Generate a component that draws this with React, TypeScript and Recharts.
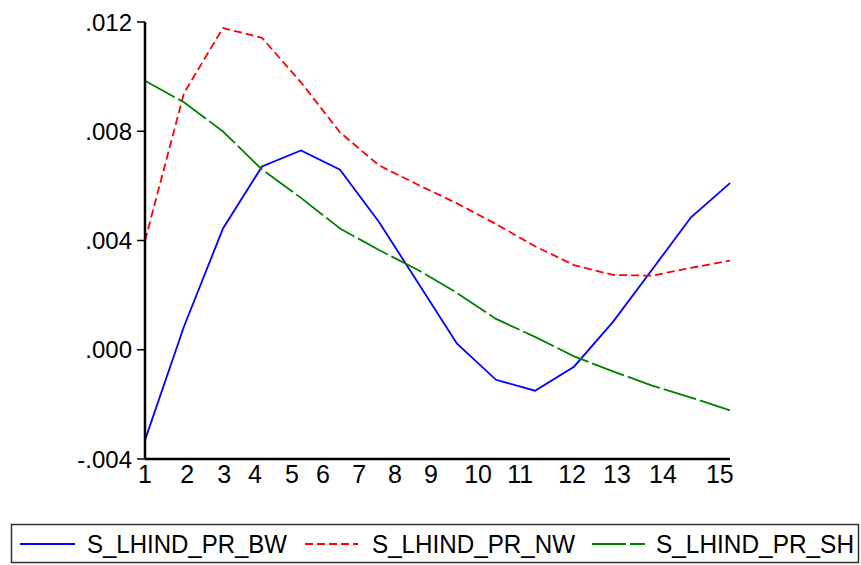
import { Line, LineChart, XAxis, YAxis } from "recharts";

// impulse responses, one value per period (16 points)
const PERIODS = [0, 1, 2, 3, 4, 5, 6, 7, 8, 9, 10, 11, 12, 13, 14, 15];
const BW = [-0.00331, 0.00085, 0.00444, 0.00671, 0.0073, 0.00659, 0.00468, 0.00245, 0.00022, -0.0011, -0.0015, -0.00062, 0.00102, 0.00293, 0.00485, 0.0061];
const NW = [0.00399, 0.0094, 0.01178, 0.01142, 0.00979, 0.00796, 0.00675, 0.00604, 0.00536, 0.0046, 0.00379, 0.0031, 0.00274, 0.00271, 0.003, 0.00326];
const SH = [0.00985, 0.00906, 0.00799, 0.0066, 0.00556, 0.00444, 0.00365, 0.00292, 0.00208, 0.00113, 0.00047, -0.00024, -0.00079, -0.00131, -0.00175, -0.00222];

const Y_TICKS = [-0.004, 0, 0.004, 0.008, 0.012];
const X_LABELS = ["1", "2", "3", "4", "5", "6", "7", "8", "9", "10", "11", "12", "13", "14", "15"];
// where each label sits along the period axis
const X_LABEL_AT = [0, 1.08, 2.03, 2.82, 3.77, 4.56, 5.49, 6.41, 7.33, 8.54, 9.62, 10.95, 12.1, 13.28, 14.74];

const SERIES = [
  { key: "bw", name: "S_LHIND_PR_BW", color: "#0000ff", dash: undefined },
  { key: "nw", name: "S_LHIND_PR_NW", color: "#ff0000", dash: "8 4" },
  { key: "sh", name: "S_LHIND_PR_SH", color: "#008000", dash: "34 4" },
];

const data = PERIODS.map((p, i) => ({ p, bw: BW[i], nw: NW[i], sh: SH[i] }));

const fmtY = (v: number) => {
  const s = Math.abs(v).toFixed(3).replace(/^0/, "");
  return v < 0 ? "-" + s : s;
};

const FONT = "'Liberation Sans', Arial, sans-serif";

function LegendBox() {
  const items = [
    { x1: 20, x2: 75, tx: 87, tw: 200 },
    { x1: 305, x2: 358, tx: 372, tw: 203 },
    { x1: 592, x2: 645, tx: 656, tw: 198 },
  ];
  return (
    <svg width={861} height={565} style={{ position: "absolute", left: 0, top: 0, pointerEvents: "none" }}>
      <rect x={11.5} y={524.5} width={847} height={38} fill="none" stroke="#333" strokeWidth={1.5} />
      {SERIES.map((s, i) => (
        <g key={s.key}>
          <line x1={items[i].x1} x2={items[i].x2} y1={544} y2={544} stroke={s.color} strokeWidth={1.8} strokeDasharray={s.dash} />
          <text
            x={items[i].tx}
            y={553}
            fontFamily={FONT}
            fontSize={25}
            textLength={items[i].tw}
            lengthAdjust="spacingAndGlyphs"
            fill="#000"
          >
            {s.name}
          </text>
        </g>
      ))}
    </svg>
  );
}

export default function App() {
  return (
    <div style={{ position: "absolute", left: 0, top: 0, width: 861, height: 565, background: "#fff" }}>
      <LineChart width={861} height={565} data={data} margin={{ top: 22, right: 131, left: 0, bottom: 76 }}>
        <XAxis
          dataKey="p"
          type="number"
          domain={[0, 15]}
          ticks={X_LABEL_AT}
          interval={0}
          tickFormatter={(_v, i) => X_LABELS[i]}
          tickLine={false}
          tickSize={0}
          tickMargin={6}
          height={30}
          axisLine={{ stroke: "#000", strokeWidth: 2.5 }}
          tick={{ fill: "#000", fontSize: 25, fontFamily: FONT }}
        />
        <XAxis xAxisId="top" dataKey="p" type="number" domain={[0, 15]} orientation="top" height={0} tick={false} tickLine={false} axisLine={{ stroke: "#000", strokeWidth: 2.5 }} />
        <YAxis
          domain={[-0.004, 0.012]}
          ticks={Y_TICKS}
          interval={0}
          tickFormatter={fmtY}
          width={145}
          tickSize={8}
          tickMargin={5}
          axisLine={{ stroke: "#000", strokeWidth: 2.5 }}
          tickLine={{ stroke: "#000", strokeWidth: 1.5 }}
          tick={{ fill: "#000", fontSize: 24, fontFamily: FONT }}
        />
        <YAxis yAxisId="right" orientation="right" domain={[-0.004, 0.012]} width={0} tick={false} tickLine={false} axisLine={{ stroke: "#000", strokeWidth: 2.5 }} />
        {SERIES.map((s) => (
          <Line
            key={s.key}
            dataKey={s.key}
            name={s.name}
            type="linear"
            stroke={s.color}
            strokeWidth={1.8}
            strokeDasharray={s.dash}
            dot={false}
            isAnimationActive={false}
          />
        ))}
      </LineChart>
      <LegendBox />
    </div>
  );
}
